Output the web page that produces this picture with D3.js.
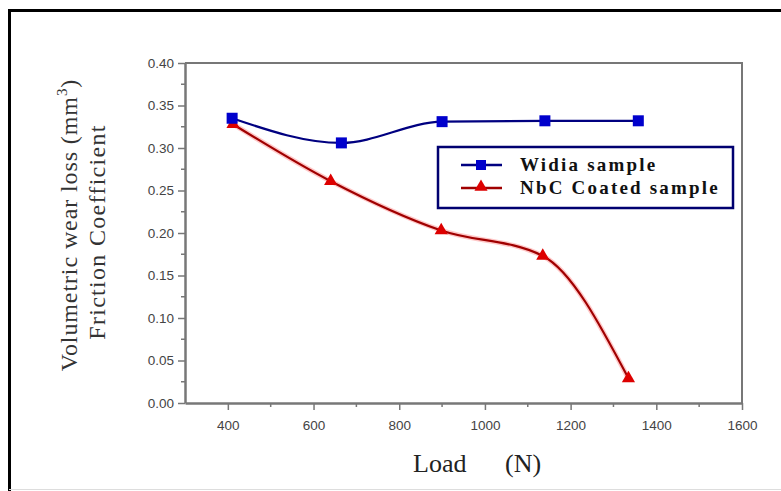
<!DOCTYPE html>
<html>
<head>
<meta charset="utf-8">
<script src="https://cdn.jsdelivr.net/npm/d3@7"></script>
<style>
  body { margin: 0; background: #fff; }
  svg { display: block; }
</style>
</head>
<body>
<script>
// data
var load = [410, 665, 900, 1140, 1358];
var widia = [0.335, 0.306, 0.331, 0.332, 0.332];
var nbcLoad = [412, 640, 898, 1135, 1335];
var nbc = [0.328, 0.261, 0.203, 0.173, 0.029];
var xTicks = [400, 600, 800, 1000, 1200, 1400, 1600];
var yTicks = [0, 0.05, 0.10, 0.15, 0.20, 0.25, 0.30, 0.35, 0.40];
var seriesNames = ["Widia sample", "NbC Coated sample"];

var W = 781, H = 491;
var margin = {top: 63, right: 39, bottom: 88, left: 185};
var width = W - margin.left - margin.right,
    height = H - margin.top - margin.bottom;

var svg = d3.select("body").append("svg")
    .attr("width", W)
    .attr("height", H);

// outer black frame (runs off the right side)
svg.append("path")
    .attr("d", "M 9.5 491 L 9.5 10.5 L 790 10.5")
    .attr("fill", "none")
    .attr("stroke", "#000")
    .attr("stroke-width", 3);
svg.append("line")
    .attr("x1", 9).attr("x2", 781).attr("y1", 489.5).attr("y2", 489.5)
    .attr("stroke", "#ddd").attr("stroke-width", 1);

var g = svg.append("g")
    .attr("transform", "translate(" + margin.left + "," + margin.top + ")");

var x = d3.scaleLinear().domain([300, 1600]).range([0, width]);
var y = d3.scaleLinear().domain([0, 0.40]).range([height, 0]);

var axisColor = "#777";

// minor ticks
var xMinor = d3.range(500, 1600, 200);
var yMinor = d3.range(0.025, 0.4, 0.05);

g.append("g")
    .attr("transform", "translate(0," + height + ")")
    .selectAll("line").data(xMinor).enter().append("line")
    .attr("x1", function(d) { return x(d); })
    .attr("x2", function(d) { return x(d); })
    .attr("y1", 0).attr("y2", 4)
    .attr("stroke", axisColor).attr("stroke-width", 1.5);

g.append("g")
    .selectAll("line").data(yMinor).enter().append("line")
    .attr("x1", -4).attr("x2", 0)
    .attr("y1", function(d) { return y(d); })
    .attr("y2", function(d) { return y(d); })
    .attr("stroke", axisColor).attr("stroke-width", 1.5);

// x axis
var xAxis = g.append("g")
    .attr("transform", "translate(0," + height + ")")
    .call(d3.axisBottom(x).tickValues(xTicks).tickSize(7).tickSizeOuter(0).tickFormat(d3.format("d")));

// y axis
var yAxis = g.append("g")
    .call(d3.axisLeft(y).tickValues(yTicks).tickSize(7).tickSizeOuter(0).tickFormat(d3.format(".2f")));

[xAxis, yAxis].forEach(function(a) {
  a.select(".domain").attr("stroke", axisColor).attr("stroke-width", 2.5);
  a.selectAll(".tick line").attr("stroke", axisColor).attr("stroke-width", 1.5);
  a.selectAll(".tick text")
    .attr("fill", "#444")
    .style("font-family", "'Liberation Sans', Arial, sans-serif")
    .style("font-size", "13.5px");
});
xAxis.selectAll(".tick text").attr("dy", "1.25em");
yAxis.selectAll(".tick text").attr("dx", "-1px");

// top and right frame of plot
g.append("path")
    .attr("d", "M 0 0 L " + width + " 0 L " + width + " " + height)
    .attr("fill", "none")
    .attr("stroke", axisColor)
    .attr("stroke-width", 2);

// lines
var lineW = d3.line()
    .x(function(d, i) { return x(load[i]); })
    .y(function(d) { return y(d); })
    .curve(d3.curveMonotoneX);

var lineN = d3.line()
    .x(function(d, i) { return x(nbcLoad[i]); })
    .y(function(d) { return y(d); })
    .curve(d3.curveMonotoneX);

// red glow under coated line
g.append("path")
    .attr("d", lineN(nbc))
    .attr("fill", "none")
    .attr("stroke", "#ff6060")
    .attr("stroke-opacity", 0.35)
    .attr("stroke-width", 5);
g.append("path")
    .attr("d", lineN(nbc))
    .attr("fill", "none")
    .attr("stroke", "#a00000")
    .attr("stroke-width", 2.2);

g.append("path")
    .attr("d", lineW(widia))
    .attr("fill", "none")
    .attr("stroke", "#000080")
    .attr("stroke-width", 2.2);

var tri = d3.symbol().type(d3.symbolTriangle).size(75);

g.selectAll(".tri").data(nbc).enter().append("path")
    .attr("class", "tri")
    .attr("d", tri)
    .attr("transform", function(d, i) { return "translate(" + x(nbcLoad[i]) + "," + y(d) + ")"; })
    .attr("fill", "#dd0000");

g.selectAll(".sq").data(widia).enter().append("rect")
    .attr("class", "sq")
    .attr("x", function(d, i) { return x(load[i]) - 5.5; })
    .attr("y", function(d) { return y(d) - 5.5; })
    .attr("width", 11).attr("height", 11)
    .attr("fill", "#0000cc");

// legend
var lg = svg.append("g").attr("transform", "translate(438,147)");
lg.append("rect")
    .attr("width", 295).attr("height", 61)
    .attr("fill", "#fff")
    .attr("stroke", "#000070")
    .attr("stroke-width", 2.5);

var legColors = [["#000080", "#0000cc"], ["#a00000", "#dd0000"]];
seriesNames.forEach(function(name, i) {
  var yy = 18 + i * 23;
  lg.append("line")
      .attr("x1", 23).attr("x2", 64).attr("y1", yy).attr("y2", yy)
      .attr("stroke", legColors[i][0]).attr("stroke-width", 2.5);
  if (i == 0) {
    lg.append("rect")
        .attr("x", 38).attr("y", yy - 5).attr("width", 10).attr("height", 10)
        .attr("fill", legColors[i][1]);
  } else {
    lg.append("path")
        .attr("d", tri)
        .attr("transform", "translate(43," + (yy - 1) + ")")
        .attr("fill", legColors[i][1]);
  }
  lg.append("text")
      .attr("x", 82).attr("y", yy + 6)
      .style("font-family", "'Liberation Serif', 'Times New Roman', serif")
      .style("font-weight", "bold")
      .style("font-size", "19px")
      .style("letter-spacing", "2.2px")
      .attr("fill", "#111")
      .text(name);
});

// axis titles
var serif = "'Liberation Serif', 'Times New Roman', serif";
svg.append("text")
    .attr("x", 413).attr("y", 472)
    .style("font-family", serif)
    .style("font-size", "26px")
    .attr("fill", "#222")
    .text("Load");
svg.append("text")
    .attr("x", 505).attr("y", 472)
    .style("font-family", serif)
    .style("font-size", "26px")
    .attr("fill", "#222")
    .text("(N)");

var yl = svg.append("text")
    .attr("transform", "translate(77,225) rotate(-90)")
    .attr("text-anchor", "middle")
    .style("font-family", serif)
    .style("font-size", "24px")
    .style("letter-spacing", "0.9px")
    .attr("fill", "#333");
yl.append("tspan").text("Volumetric wear loss (mm");
yl.append("tspan").attr("dy", "-10").style("font-size", "15px").text("3");
yl.append("tspan").attr("dy", "10").text(")");

svg.append("text")
    .attr("transform", "translate(105,232) rotate(-90)")
    .attr("text-anchor", "middle")
    .style("font-family", serif)
    .style("font-size", "24px")
    .style("letter-spacing", "1.3px")
    .attr("fill", "#333")
    .text("Friction Coefficient");
</script>
</body>
</html>
